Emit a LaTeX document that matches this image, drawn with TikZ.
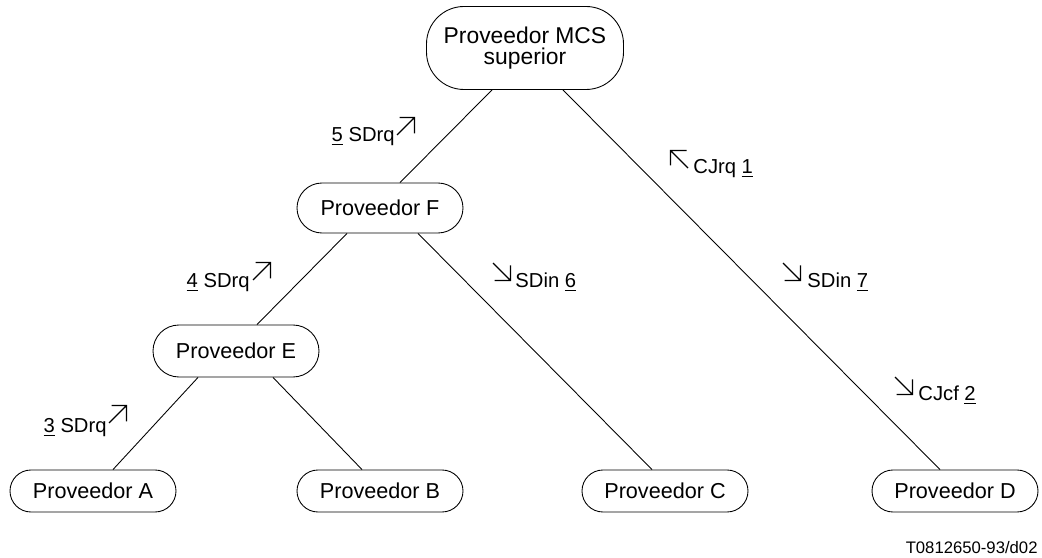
\documentclass[tikz,border=0pt]{standalone}
\usepackage{fontspec}
\setmainfont{Liberation Sans}
\usepackage{tikz}
\usetikzlibrary{positioning,calc}

\tikzset{
  prov/.style={draw, rounded corners=0.42cm, minimum width=3.32cm, minimum height=0.84cm, inner sep=0pt, font=\fontsize{12.3}{14}\selectfont},
  msg/.style={inner sep=0pt, font=\fontsize{11.5}{13}\selectfont},
  cornerarrow/.pic={\draw[line width=0.75pt] (0,0) -- (0.35,0.35) (0.05,0.35) -- (0.35,0.35) -- (0.35,0.03);}
}

\begin{document}
\begin{tikzpicture}[line width=0.5pt]
    \useasboundingbox (0,0) rectangle (20.84,11.14);

    % Providers
    \node[prov, minimum width=3.94cm, minimum height=1.66cm, rounded corners=0.75cm, align=center, font=\fontsize{13}{12}\selectfont] (sup) at (10.50,10.18) {Proveedor MCS\\superior};
    \node[prov, minimum height=1.0cm, rounded corners=0.5cm] (pF) at (7.60,6.98) {Proveedor F};
    \node[prov, minimum height=1.04cm, rounded corners=0.52cm] (pE) at (4.72,4.12) {Proveedor E};
    \node[prov] (pA) at (1.86,1.32) {Proveedor A};
    \node[prov] (pB) at (7.60,1.32) {Proveedor B};
    \node[prov] (pC) at (13.30,1.32) {Proveedor C};
    \node[prov] (pD) at (19.10,1.32) {Proveedor D};

    % Links
    \draw ([xshift=-0.66cm]sup.south) -- ([xshift=0.40cm]pF.north);
    \draw ([xshift=0.76cm]sup.south) -- ([xshift=-0.30cm]pD.north);
    \draw ([xshift=-0.66cm]pF.south) -- ([xshift=0.42cm]pE.north);
    \draw ([xshift=0.76cm]pF.south) -- ([xshift=-0.26cm]pC.north);
    \draw ([xshift=-0.76cm]pE.south) -- ([xshift=0.40cm]pA.north);
    \draw ([xshift=0.74cm]pE.south) -- ([xshift=-0.36cm]pB.north);

    % Messages
    \node[msg, anchor=base east] (m5) at (7.90,8.30) {\underline{5} SDrq};
    \pic at (7.94,8.44) {cornerarrow};
    \node[msg, anchor=base east] (m4) at (5.00,5.38) {\underline{4} SDrq};
    \pic at (5.06,5.54) {cornerarrow};
    \node[msg, anchor=base east] (m3) at (2.14,2.48) {\underline{3} SDrq};
    \pic at (2.18,2.68) {cornerarrow};
    \node[msg, anchor=base west] (m1) at (13.86,7.66) {CJrq \underline{1}};
    \pic[rotate=90] at (13.76,7.78) {cornerarrow};
    \node[msg, anchor=base west] (m6) at (10.30,5.38) {SDin \underline{6}};
    \pic[rotate=-90] at (9.86,5.88) {cornerarrow};
    \node[msg, anchor=base west] (m7) at (16.14,5.38) {SDin \underline{7}};
    \pic[rotate=-90] at (15.66,5.88) {cornerarrow};
    \node[msg, anchor=base west] (m2) at (18.36,3.12) {CJcf \underline{2}};
    \pic[rotate=-90] at (17.90,3.60) {cornerarrow};

    % Reference
    \node[anchor=base east, inner sep=0pt, font=\fontsize{9.5}{11}\selectfont] (ref) at (20.76,0.08) {T0812650-93/d02};
\end{tikzpicture}
\end{document}
